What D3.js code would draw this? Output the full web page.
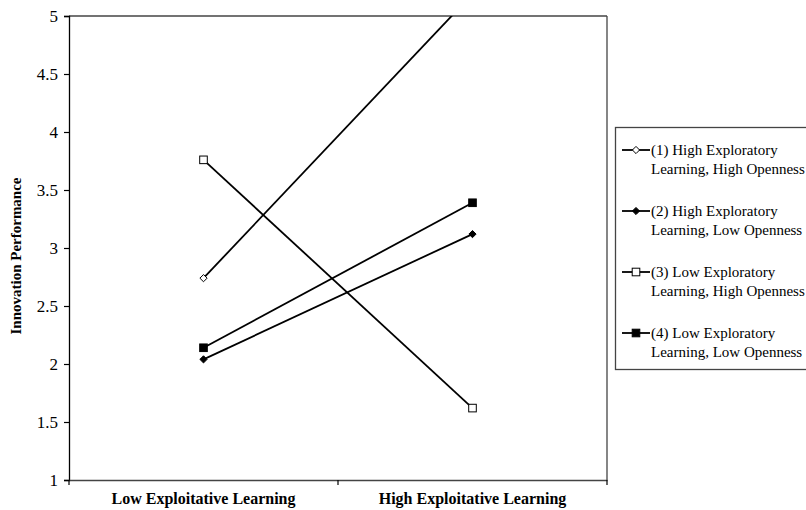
<!DOCTYPE html>
<html>
<head>
<meta charset="utf-8">
<script src="https://cdn.jsdelivr.net/npm/d3@7"></script>
<style>
  body { margin: 0; background: #fff; }
  svg { display: block; }
  text { font-family: "Liberation Serif", "Times New Roman", serif; fill: #000; }
</style>
</head>
<body>
<svg id="chart" width="806" height="510"></svg>
<script>
const categories = ["Low Exploitative Learning", "High Exploitative Learning"];
const seriesNames = [
  ["(1) High Exploratory", "Learning, High Openness"],
  ["(2) High Exploratory", "Learning, Low Openness"],
  ["(3) Low Exploratory", "Learning, High Openness"],
  ["(4) Low Exploratory", "Learning, Low Openness"]
];
const series1 = [2.74, 5.19];
const series2 = [2.04, 3.12];
const series3 = [3.76, 1.62];
const series4 = [2.14, 3.39];
const yTicks = [1, 1.5, 2, 2.5, 3, 3.5, 4, 4.5, 5];
const markers = ["diamondOpen", "diamondFilled", "squareOpen", "squareFilled"];
const allSeries = [series1, series2, series3, series4];

const svg = d3.select("#chart");
const m = { left: 69, right: 607, top: 16, bottom: 480 };

const x = d3.scaleBand().domain(categories).range([m.left, m.right]);
const y = d3.scaleLinear().domain([1, 5]).range([m.bottom, m.top]);

svg.append("defs").append("clipPath").attr("id", "plotclip")
  .append("rect").attr("x", m.left).attr("y", m.top)
  .attr("width", m.right - m.left).attr("height", m.bottom - m.top);

svg.append("line").attr("x1", m.left).attr("x2", m.right).attr("y1", m.top).attr("y2", m.top)
  .attr("stroke", "#444").attr("stroke-width", 1.3);
svg.append("line").attr("x1", m.right).attr("x2", m.right).attr("y1", m.top).attr("y2", m.bottom)
  .attr("stroke", "#444").attr("stroke-width", 1.3);

const yAxis = svg.append("g").attr("transform", `translate(${m.left},0)`)
  .call(d3.axisLeft(y).tickValues(yTicks).tickFormat(d3.format("")).tickSize(5).tickPadding(6));
yAxis.select(".domain").attr("stroke", "#000").attr("stroke-width", 1.3);
yAxis.selectAll(".tick line").attr("stroke", "#000").attr("stroke-width", 1.2);
yAxis.selectAll("text").attr("font-size", 17).attr("font-family", "Liberation Serif");

const xAxis = svg.append("g").attr("transform", `translate(0,${m.bottom})`)
  .call(d3.axisBottom(x).tickSize(0).tickPadding(13));
xAxis.select(".domain").attr("stroke", "#444").attr("stroke-width", 1.5);
xAxis.selectAll("text").attr("font-size", 16).attr("font-weight", "bold").attr("font-family", "Liberation Serif");
const bounds = [m.left, m.left + x.bandwidth(), m.right];
svg.selectAll(".xb").data(bounds).enter().append("line")
  .attr("x1", d => d).attr("x2", d => d).attr("y1", m.bottom).attr("y2", m.bottom + 5)
  .attr("stroke", "#000").attr("stroke-width", 1.2);

svg.append("text")
  .attr("transform", `translate(21,256) rotate(-90)`)
  .attr("text-anchor", "middle")
  .attr("font-size", 15).attr("font-weight", "bold")
  .text("Innovation Performance");

function drawMarker(g, type, cx, cy) {
  if (type.startsWith("diamond")) {
    const s = 3.6;
    g.append("path")
      .attr("d", `M${cx},${cy - s}L${cx + s},${cy}L${cx},${cy + s}L${cx - s},${cy}Z`)
      .attr("fill", type === "diamondOpen" ? "#fff" : "#000")
      .attr("stroke", "#000").attr("stroke-width", 1);
  } else {
    const s = 3.8;
    g.append("rect").attr("x", cx - s).attr("y", cy - s).attr("width", 2 * s).attr("height", 2 * s)
      .attr("fill", type === "squareOpen" ? "#fff" : "#000")
      .attr("stroke", "#000").attr("stroke-width", 1);
  }
}

const line = d3.line().x((d, i) => x(categories[i]) + x.bandwidth() / 2).y(d => y(d));
const plot = svg.append("g").attr("clip-path", "url(#plotclip)");
allSeries.forEach((s) => {
  plot.append("path").datum(s).attr("d", line)
    .attr("fill", "none").attr("stroke", "#000").attr("stroke-width", 1.8);
});
allSeries.forEach((s, k) => {
  const g = plot.append("g");
  s.forEach((v, i) => {
    if (v <= 5) drawMarker(g, markers[k], x(categories[i]) + x.bandwidth() / 2, y(v));
  });
});

const lg = svg.append("g");
lg.append("rect").attr("x", 615.5).attr("y", 127.5).attr("width", 200).attr("height", 242)
  .attr("fill", "#fff").attr("stroke", "#444").attr("stroke-width", 1.3);
seriesNames.forEach((nm, k) => {
  const cy = 150 + k * 61;
  lg.append("line").attr("x1", 622).attr("x2", 650).attr("y1", cy).attr("y2", cy)
    .attr("stroke", "#000").attr("stroke-width", 1.8);
  drawMarker(lg, markers[k], 636, cy);
  lg.append("text").attr("x", 651).attr("y", cy + 5).attr("font-size", 15).text(nm[0]);
  lg.append("text").attr("x", 651).attr("y", cy + 24).attr("font-size", 15).text(nm[1]);
});
</script>
</body>
</html>
